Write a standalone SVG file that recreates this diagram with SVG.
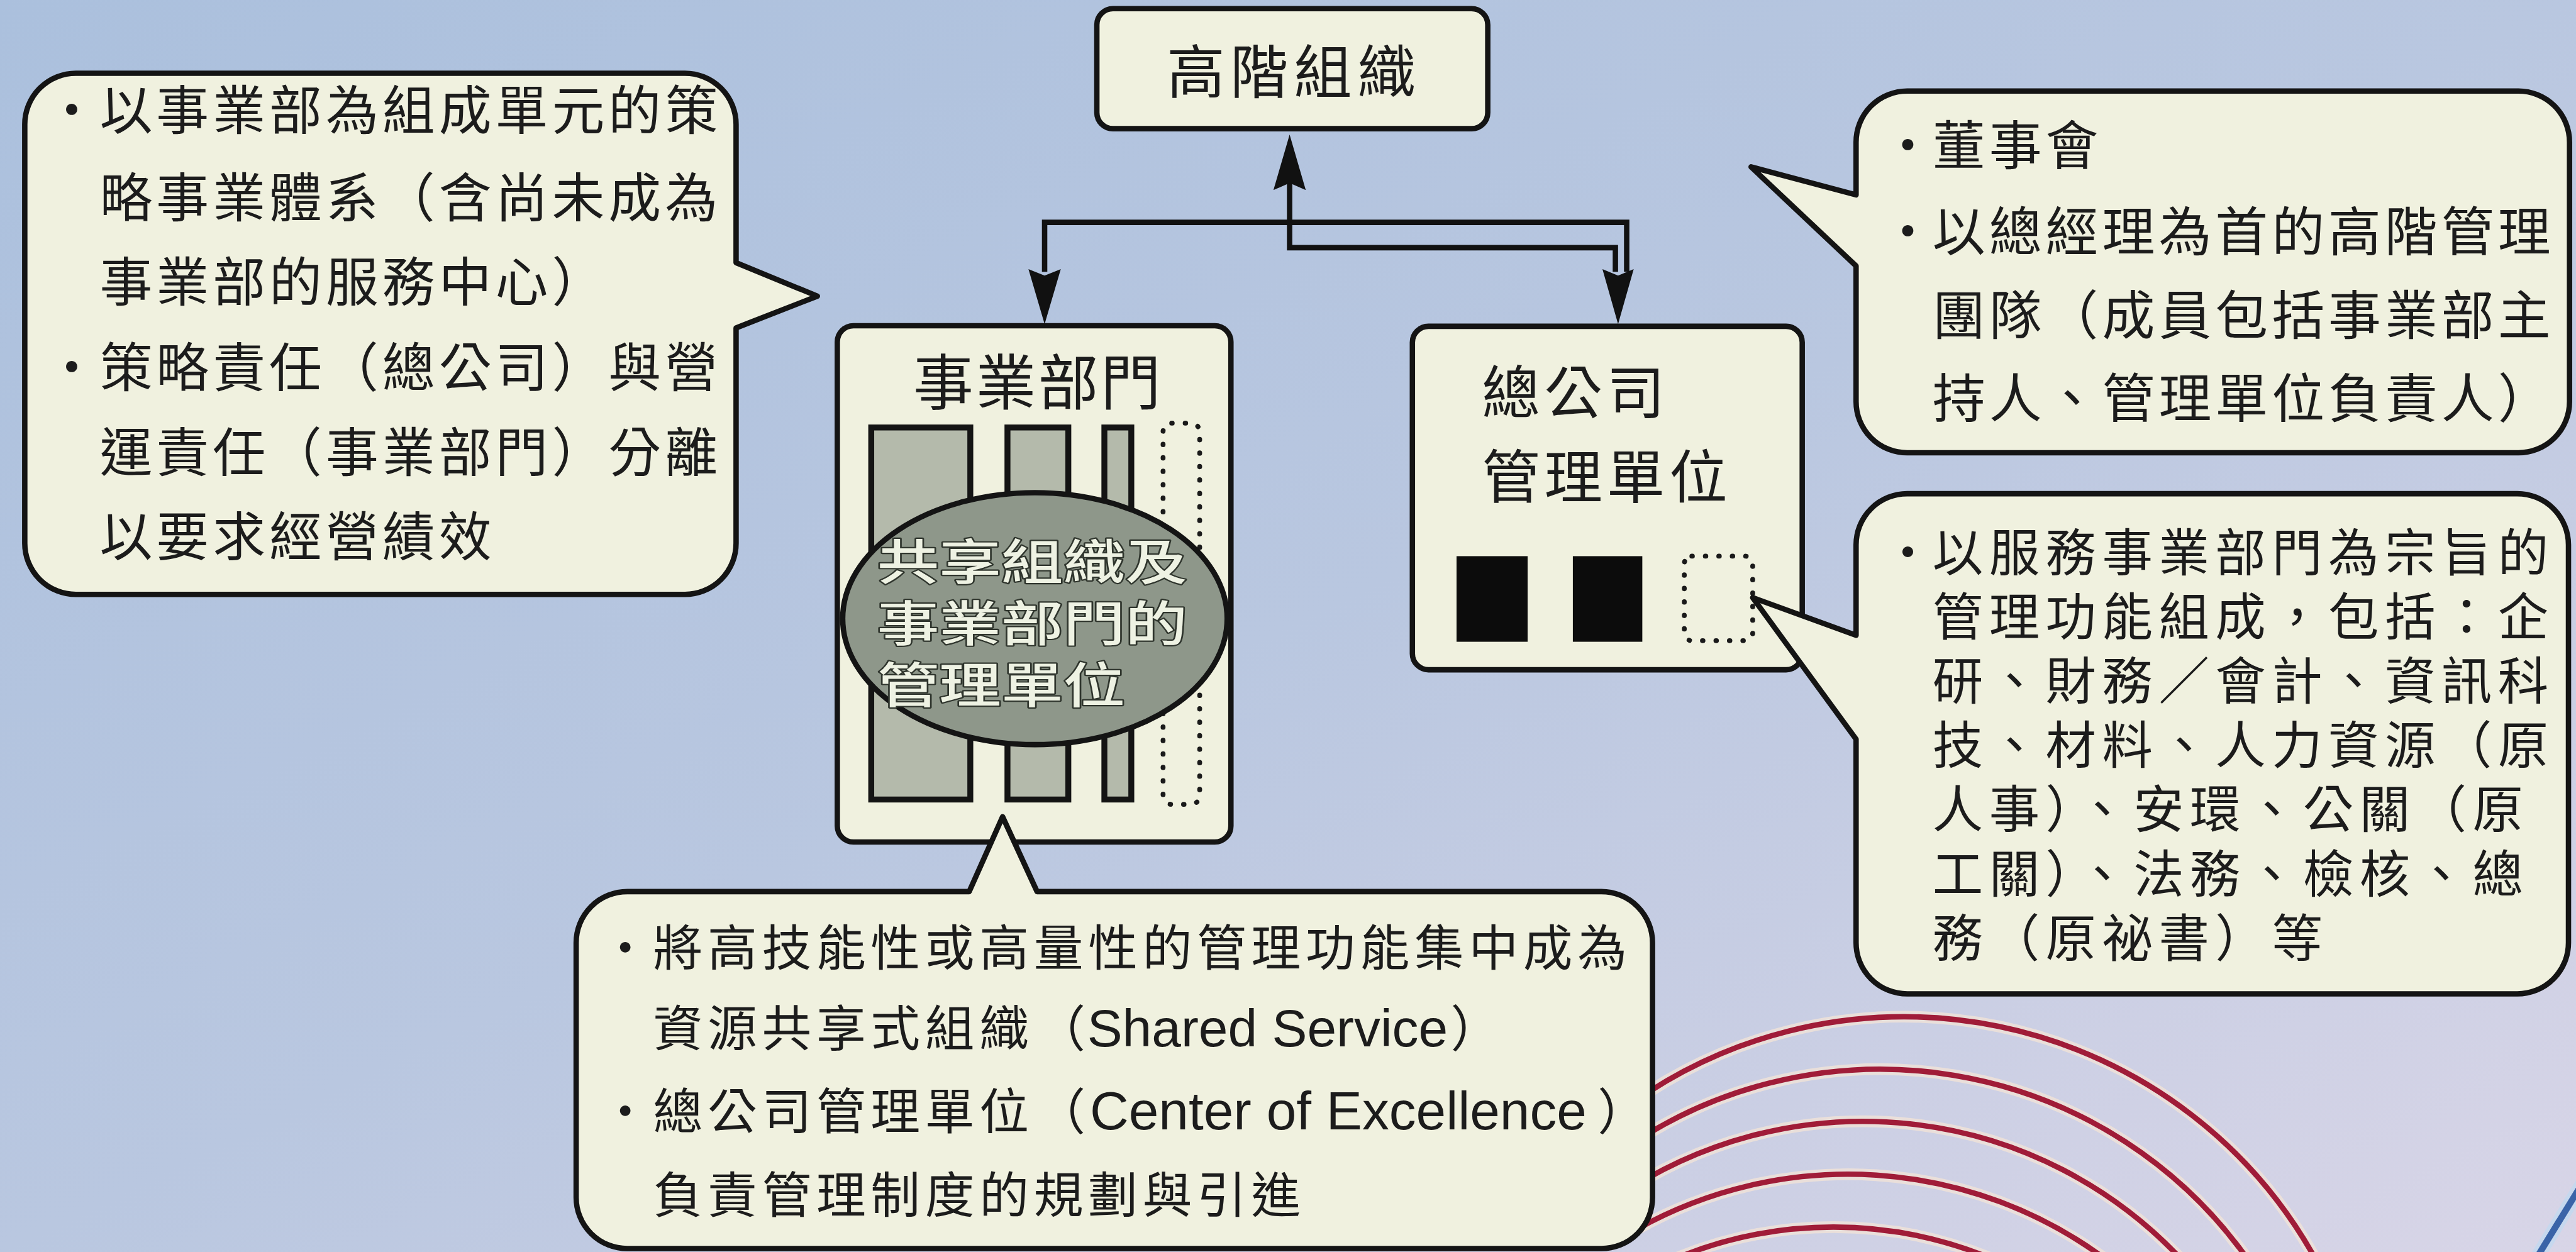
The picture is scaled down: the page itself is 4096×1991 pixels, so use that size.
<svg xmlns="http://www.w3.org/2000/svg" width="4096" height="1991" viewBox="0 0 4096 1991">
<defs>
<linearGradient id="bg" x1="0" y1="0" x2="1" y2="1">
<stop offset="0" stop-color="#abc0dd"/>
<stop offset="0.5" stop-color="#b9c7e0"/>
<stop offset="1" stop-color="#d8d5e7"/>
</linearGradient>
<style>
.shape{fill:#f0f1df;stroke:#141414;stroke-width:10;stroke-linejoin:round}
.txt{font-family:'Noto Sans CJK TC','Noto Sans CJK SC',sans-serif;fill:#1c1c1c;font-weight:400}
.lat{font-family:'Liberation Sans',Arial,sans-serif;font-weight:400}
.bar{fill:#b4baab;stroke:#141414;stroke-width:11}
.dot{fill:none;stroke:#1a1a1a;stroke-width:9;stroke-linecap:round;stroke-dasharray:1 24}
.arc{fill:none;stroke:#a01c38;stroke-width:10}
.arch{fill:none;stroke:#efe2d8;stroke-width:22;opacity:.85}
.conn{fill:none;stroke:#111;stroke-width:10}
.head{fill:#111}
.ell{font-family:'Noto Sans CJK TC','Noto Sans CJK SC',sans-serif;font-weight:500;fill:#eef2e3;stroke:#2f352d;stroke-width:5;paint-order:stroke;stroke-linejoin:round}
</style>
</defs>
<rect width="4096" height="1991" fill="url(#bg)"/>
<g transform="scale(0.856187)">
<g id="decor">
<path class="arch" d="M 3000 2072 A 874 874 0 0 1 4301 2340"/>
<path class="arch" d="M 3000 2146 A 836 836 0 0 1 4175 2340"/>
<path class="arch" d="M 3000 2226 A 810 810 0 0 1 4052 2340"/>
<path class="arch" d="M 3040 2283 A 804 804 0 0 1 3912 2340"/>
<path class="arch" d="M 3106 2340 A 765 765 0 0 1 3704 2340"/>
<path class="arc" d="M 3000 2072 A 874 874 0 0 1 4301 2340"/>
<path class="arc" d="M 3000 2146 A 836 836 0 0 1 4175 2340"/>
<path class="arc" d="M 3000 2226 A 810 810 0 0 1 4052 2340"/>
<path class="arc" d="M 3040 2283 A 804 804 0 0 1 3912 2340"/>
<path class="arc" d="M 3106 2340 A 765 765 0 0 1 3704 2340"/>
<path d="M 4800 2191 L 4705 2346" stroke="#c6d8ee" stroke-width="26" fill="none"/>
<path d="M 4800 2191 L 4705 2346" stroke="#3a64a8" stroke-width="12" fill="none"/>
</g>

<g id="connectors">
<path class="conn" d="M 1940 505 V 413 H 3021 V 505"/>
<path class="conn" d="M 2395 340 V 460 H 3000 V 505"/>
<polygon class="head" points="2395,250 2365,353 2395,340 2425,353"/>
<polygon class="head" points="1940,602 1910,500 1940,512 1970,500"/>
<polygon class="head" points="3005,602 2976,500 3005,512 3034,500"/>
</g>

<g id="node-top">
<rect class="shape" x="2037" y="16" width="726" height="223" rx="30"/>
<text class="txt" font-size="108" letter-spacing="10" x="2167" y="173">高階組織</text>
</g>

<g id="node-division">
<rect class="shape" x="1555" y="605" width="731" height="959" rx="30"/>
<text class="txt" font-size="112" letter-spacing="4" x="1696" y="751">事業部門</text>
<rect class="bar" x="1618" y="794" width="184" height="691"/>
<rect class="bar" x="1871" y="794" width="113" height="691"/>
<rect class="bar" x="2051" y="794" width="50" height="691"/>
<rect class="dot" x="2160" y="786" width="68" height="708" rx="16"/>
<ellipse cx="1922" cy="1149" rx="357" ry="234" fill="#8e978a" stroke="#141414" stroke-width="10"/>
<text class="ell" transform="translate(1629 0) scale(1.28 1)" font-size="90"><tspan x="0" y="1077">共享組織及</tspan><tspan x="0" y="1191">事業部門的</tspan><tspan x="0" y="1306">管理單位</tspan></text>
</g>

<g id="node-hq">
<rect class="shape" x="2623" y="606" width="724" height="638" rx="30"/>
<text class="txt" font-size="108" letter-spacing="8"><tspan x="2752" y="768">總公司</tspan><tspan x="2752" y="925">管理單位</tspan></text>
<rect x="2705" y="1033" width="132" height="159" fill="#0c0c0c"/>
<rect x="2921" y="1033" width="129" height="159" fill="#0c0c0c"/>
<rect class="dot" x="3128" y="1033" width="127" height="157" rx="14"/>
</g>

<g id="bubble-left">
<path class="shape" d="M 141 136 H 1272 A 95 95 0 0 1 1367 231 V 488 L 1518 550 L 1367 609 V 1009 A 95 95 0 0 1 1272 1104 H 141 A 95 95 0 0 1 46 1009 V 231 A 95 95 0 0 1 141 136 Z"/>
<text class="txt" font-size="98" text-anchor="middle"><tspan x="133" y="241">·</tspan><tspan x="133" y="718">·</tspan></text>
<text class="txt" font-size="98" letter-spacing="7"><tspan x="185" y="241">以事業部為組成單元的策</tspan><tspan x="185" y="403">略事業體系（含尚未成為</tspan><tspan x="185" y="560">事業部的服務中心）</tspan><tspan x="185" y="718">策略責任（總公司）與營</tspan><tspan x="185" y="876">運責任（事業部門）分離</tspan><tspan x="185" y="1033">以要求經營績效</tspan></text>
</g>

<g id="bubble-top-right">
<path class="shape" d="M 3542 169 H 4677 A 95 95 0 0 1 4772 264 V 746 A 95 95 0 0 1 4677 841 H 3542 A 95 95 0 0 1 3447 746 V 494 L 3252 310 L 3447 362 V 264 A 95 95 0 0 1 3542 169 Z"/>
<text class="txt" font-size="98" text-anchor="middle"><tspan x="3543" y="306">·</tspan><tspan x="3543" y="466">·</tspan></text>
<text class="txt" font-size="98" letter-spacing="7"><tspan x="3589" y="306">董事會</tspan><tspan x="3589" y="466">以總經理為首的高階管理</tspan><tspan x="3589" y="621">團隊（成員包括事業部主</tspan><tspan x="3589" y="776">持人、管理單位負責人）</tspan></text>
</g>

<g id="bubble-right">
<path class="shape" d="M 3542 917 H 4675 A 95 95 0 0 1 4770 1012 V 1751 A 95 95 0 0 1 4675 1846 H 3542 A 95 95 0 0 1 3447 1751 V 1373 L 3255 1110 L 3447 1180 V 1012 A 95 95 0 0 1 3542 917 Z"/>
<text class="txt" font-size="94" text-anchor="middle"><tspan x="3543" y="1060">·</tspan></text>
<text class="txt" font-size="94" letter-spacing="11"><tspan x="3589" y="1060">以服務事業部門為宗旨的</tspan><tspan x="3589" y="1180">管理功能組成，包括：企</tspan><tspan x="3589" y="1299">研、財務／會計、資訊科</tspan><tspan x="3589" y="1418">技、材料、人力資源（原</tspan><tspan x="3589" y="1537">人事）、安環、公關（原</tspan><tspan x="3589" y="1657">工關）、法務、檢核、總</tspan><tspan x="3589" y="1776">務（原祕書）等</tspan></text>
</g>

<g id="bubble-bottom">
<path class="shape" d="M 1165 1656 H 1800 L 1862 1517 L 1926 1656 H 2974 A 95 95 0 0 1 3069 1751 V 2224 A 95 95 0 0 1 2974 2319 H 1165 A 95 95 0 0 1 1070 2224 V 1751 A 95 95 0 0 1 1165 1656 Z"/>
<text class="txt" font-size="92" text-anchor="middle"><tspan x="1161" y="1794">·</tspan><tspan x="1161" y="2098">·</tspan></text>
<text class="txt" font-size="92" letter-spacing="9"><tspan x="1213" y="1794">將高技能性或高量性的管理功能集中成為</tspan><tspan x="1213" y="1944">資源共享式組織</tspan><tspan x="1213" y="2098">總公司管理單位</tspan><tspan x="1213" y="2253">負責管理制度的規劃與引進</tspan></text>
<text class="txt" font-size="92"><tspan x="1924" y="1944">（</tspan><tspan x="2694" y="1944">）</tspan><tspan x="1924" y="2098">（</tspan><tspan x="2967" y="2098">）</tspan></text>
<text class="txt lat" font-size="98" x="2019" y="1944">Shared Service</text>
<text class="txt lat" font-size="100" x="2024" y="2098">Center of Excellence</text>
</g>
</g>
</svg>
